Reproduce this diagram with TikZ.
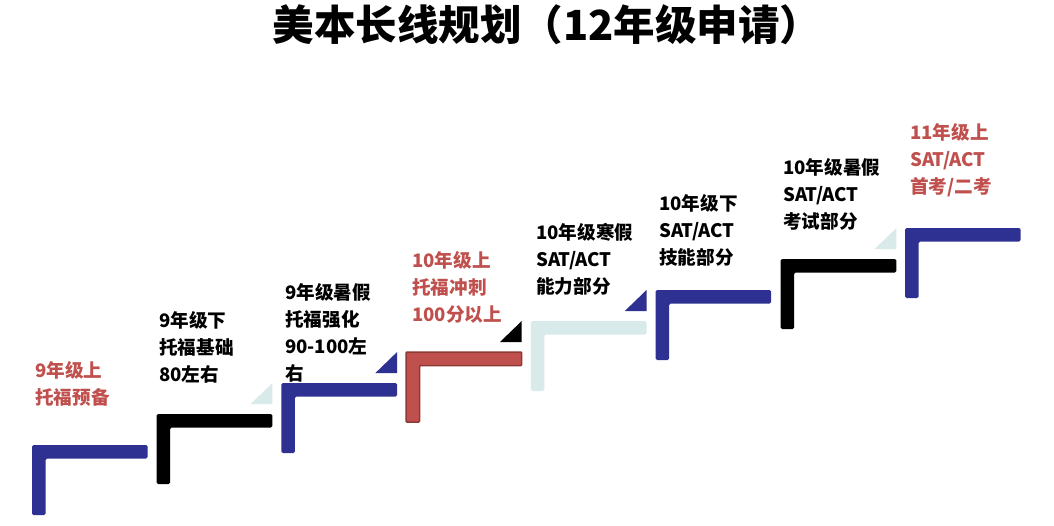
\documentclass[tikz,border=0pt]{standalone}
\usepackage{fontspec}
\setmainfont{Noto Sans CJK SC}
\definecolor{stepblue}{HTML}{2E3192}
\definecolor{stepteal}{HTML}{D9EAEA}
\definecolor{stepred}{HTML}{C0504D}
\definecolor{stepredline}{HTML}{8E3A37}
\definecolor{txtred}{HTML}{C0504D}
\tikzset{
  lbl/.style={anchor=north west, inner sep=0pt, align=left, font=\bfseries\fontsize{18.6}{27}\selectfont},
  redlbl/.style={lbl, text=txtred},
  blacklbl/.style={lbl, text=black},
  stairfill/.style={fill=#1, draw=none, rounded corners=1.5pt},
}
\newcommand\mystair[3]{% x0, top, color
  \fill[stairfill=#3] (#1,#2) -- ++(115.7,0) -- ++(0,13.5) -- ++(-102.2,0) -- ++(0,56.5) -- ++(-13.5,0) -- cycle;}
\newcommand\mytri[3]{% x0, top, color
  \fill[#3] (#1+94,#2-10) -- (#1+115.7,#2-10) -- (#1+115.7,#2-31) -- cycle;}
\begin{document}
\begin{tikzpicture}[x=1pt,y=-1pt]
\useasboundingbox (0,0) rectangle (1054,525);
\fill[white] (0,0) rectangle (1054,525);
% title
\node[font=\bfseries\fontsize{41.5}{45}\selectfont, inner sep=0pt] (title) at (547,24.5) {美本长线规划（12年级申请）};
% stairs
\mystair{32}{445}{stepblue}
\mystair{156.7}{414}{black}
\mystair{281.4}{383}{stepblue}
\fill[stepred, draw=stepredline, line width=1.5pt, rounded corners=1pt] (406,352) -- ++(115.7,0) -- ++(0,13.5) -- ++(-102.2,0) -- ++(0,56.5) -- ++(-13.5,0) -- cycle;
\mystair{530.8}{321}{stepteal}
\mystair{655.5}{290}{stepblue}
\mystair{780.7}{259}{black}
\mystair{905}{228}{stepblue}
% triangles
\mytri{156.7}{414}{stepteal}
\mytri{281.4}{383}{stepblue}
\mytri{406}{352}{black}
\mytri{530.8}{321}{stepblue}
\mytri{780.7}{259}{stepteal}
% labels
\node[redlbl] (l0) at (35,361) {9年级上\\托福预备};
\node[blacklbl] (l1) at (159,311) {9年级下\\托福基础\\80左右};
\node[blacklbl] (l2) at (285,283) {9年级暑假\\托福强化\\90-100左\\右};
\node[redlbl] (l3) at (412,251) {10年级上\\托福冲刺\\100分以上};
\node[blacklbl] (l4) at (536,223) {10年级寒假\\SAT/ACT\\能力部分};
\node[blacklbl] (l5) at (659,194) {10年级下\\SAT/ACT\\技能部分};
\node[blacklbl] (l6) at (783,158) {10年级暑假\\SAT/ACT\\考试部分};
\node[redlbl] (l7) at (910,123) {11年级上\\SAT/ACT\\首考/二考};
\end{tikzpicture}
\end{document}
